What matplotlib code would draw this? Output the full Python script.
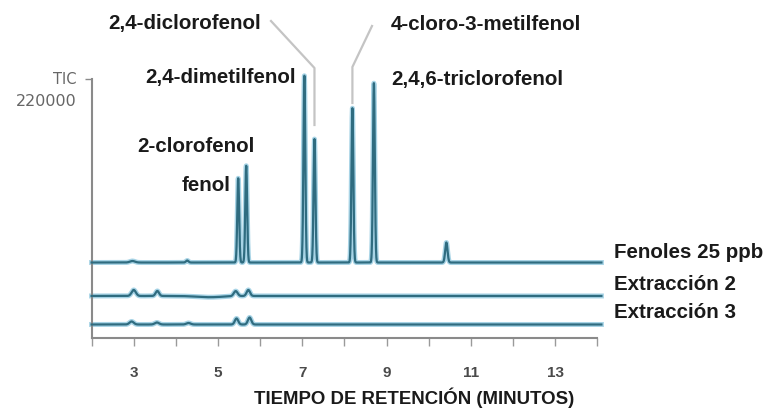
import numpy as np
import matplotlib
matplotlib.use("Agg")
import matplotlib.pyplot as plt

# ---------------- data ----------------
trace_names = ["Fenoles 25 ppb", "Extracción 2", "Extracción 3"]
trace_offsets = [90500, 50400, 16200]          # baseline of each trace (counts)

# Fenoles 25 ppb standard: retention time (min), height (counts), width (min)
fen_times   = [2.97, 4.27, 5.48, 5.67, 7.05, 7.29, 8.19, 8.70, 10.42]
fen_heights = [1800, 2400, 101000, 116000, 224000, 148000, 185000, 215000, 24000]
fen_widths  = [0.06, 0.03, 0.022, 0.022, 0.022, 0.022, 0.022, 0.022, 0.028]

ext2_times   = [3.00, 3.56, 4.80, 5.42, 5.72]
ext2_heights = [7200, 6000, -1500, 6000, 7200]
ext2_widths  = [0.05, 0.04, 0.30, 0.045, 0.04]

ext3_times   = [2.95, 3.55, 4.30, 5.44, 5.75]
ext3_heights = [3600, 2400, 1800, 7200, 8400]
ext3_widths  = [0.05, 0.05, 0.05, 0.04, 0.04]

compound_names = ["fenol", "2-clorofenol", "2,4-dimetilfenol", "2,4-diclorofenol",
                  "4-cloro-3-metilfenol", "2,4,6-triclorofenol"]

major_ticks = [3, 5, 7, 9, 11, 13]
minor_ticks = [2, 4, 6, 8, 10, 12, 14]
tic_label = "TIC"
tic_value = 220000
x_label = "TIEMPO DE RETENCIÓN (MINUTOS)"

# ---------------- figure ----------------
W, H, DPI = 768, 408, 100
fig = plt.figure(figsize=(W / DPI, H / DPI), dpi=DPI)
fig.patch.set_facecolor("white")

px_left, px_right = 91.6, 601.4
py_axis, py_top = 338.0, 79.0
ymax = trace_offsets[0] + tic_value
ax = fig.add_axes([px_left / W, 1 - py_axis / H,
                   (px_right - px_left) / W, (py_axis - py_top) / H])
ax.set_xlim(2, 14.1)
ax.set_ylim(0, ymax)

def px2t(px):
    return 2 + (px - px_left) / (px_right - px_left) * (14.1 - 2)

def py2y(py):
    return (py_axis - py) / (py_axis - py_top) * ymax

t = np.linspace(2, 14.1, 8000)

def build(offset, times, heights, widths):
    y = np.full_like(t, float(offset))
    for c, h, w in zip(times, heights, widths):
        y += h * np.exp(-0.5 * ((t - c) / w) ** 2)
    return y

traces = [
    build(trace_offsets[0], fen_times, fen_heights, fen_widths),
    build(trace_offsets[1], ext2_times, ext2_heights, ext2_widths),
    build(trace_offsets[2], ext3_times, ext3_heights, ext3_widths),
]
for y in traces:
    ax.plot(t, y, color="#a8d4e6", lw=3.6, solid_joinstyle="round", clip_on=False, zorder=2)
    ax.plot(t, y, color="#2f6c80", lw=1.6, solid_joinstyle="round", clip_on=False, zorder=3)

# spines / ticks
for s in ["top", "right"]:
    ax.spines[s].set_visible(False)
ax.spines["left"].set_color("#8a8a8a")
ax.spines["bottom"].set_color("#8a8a8a")
ax.spines["left"].set_linewidth(1.5)
ax.spines["bottom"].set_linewidth(1.5)
ax.spines["bottom"].set_bounds(2, 14)
ax.spines["left"].set_bounds(0, ymax)

ax.set_xticks(major_ticks)
ax.set_xticks(minor_ticks, minor=True)
ax.tick_params(axis="x", which="both", direction="out", length=6, width=1.0,
               color="#9a9a9a", pad=14)
ax.tick_params(axis="x", which="major", labelsize=11, labelcolor="#4a4a4a")
for lab in ax.get_xticklabels():
    lab.set_fontweight("bold")
    lab.set_family("Liberation Sans")
ax.set_yticks([ymax])
ax.set_yticklabels([""])
ax.tick_params(axis="y", direction="out", length=5, width=1.0, color="#8a8a8a")

# TIC label
ax.text(-0.03, ymax, tic_label, transform=ax.get_yaxis_transform(),
        ha="right", va="center", fontsize=10.5, color="#666666", family="DejaVu Sans")
ax.text(-0.03, py2y(101), f"{tic_value}", transform=ax.get_yaxis_transform(),
        ha="right", va="center", fontsize=11.5, color="#666666", family="DejaVu Sans")

# compound labels (left x px, center y px)
label_pos = {
    "fenol": (182, 186),
    "2-clorofenol": (137, 146),
    "2,4-dimetilfenol": (145, 77),
    "2,4-diclorofenol": (108, 24),
    "4-cloro-3-metilfenol": (391, 24),
    "2,4,6-triclorofenol": (391, 79),
}
tfont = dict(fontsize=14.8, fontweight="bold", color="#1a1a1a", family="Liberation Sans")
for name in compound_names:
    lx, ly = label_pos[name]
    fig.text(lx / W, 1 - ly / H, name, ha="left", va="center", **tfont)

# leader lines for diclorofenol and 4-cloro-3-metilfenol
leaders = {
    "2,4-diclorofenol": (125, 68, 271, 21),
    "4-cloro-3-metilfenol": (103, 67, 372, 26),
}
for name, (py_low, py_bend, px_end, py_end) in leaders.items():
    tc = fen_times[compound_names.index(name) + 2]
    ax.plot([tc, tc, px2t(px_end)], [py2y(py_low), py2y(py_bend), py2y(py_end)],
            color="#c4c4c4", lw=1.6, clip_on=False, zorder=1)

# trace names
trace_label_y = [252, 285, 312]
for name, ly in zip(trace_names, trace_label_y):
    fig.text(614 / W, 1 - ly / H, name, ha="left", va="center", **tfont)

fig.text(414 / W, 1 - 398 / H, x_label, ha="center", va="center",
         fontsize=13.4, fontweight="bold", color="#1a1a1a", family="Liberation Sans")

fig.savefig("out.png", dpi=DPI)
